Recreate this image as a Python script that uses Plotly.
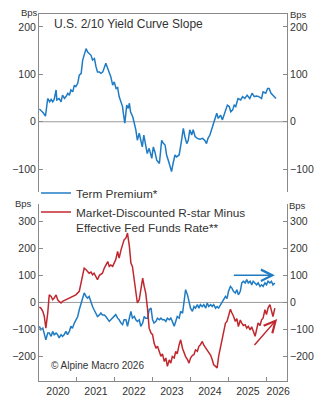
import plotly.graph_objects as go

# ---------------- data (decimal years, bps) ----------------
slope_t = [2020.01, 2020.05, 2020.11, 2020.17, 2020.23, 2020.28, 2020.32, 2020.36, 2020.40, 2020.45,
           2020.47, 2020.53, 2020.58, 2020.62, 2020.67, 2020.71, 2020.76, 2020.80, 2020.84, 2020.89,
           2020.93, 2020.97, 2021.02, 2021.06, 2021.11, 2021.15, 2021.19, 2021.24, 2021.28, 2021.32,
           2021.37, 2021.41, 2021.46, 2021.50, 2021.54, 2021.59, 2021.63, 2021.68, 2021.72, 2021.76,
           2021.81, 2021.85, 2021.89, 2021.94, 2021.98, 2022.03, 2022.07, 2022.11, 2022.16, 2022.20,
           2022.22, 2022.26, 2022.31, 2022.35, 2022.38, 2022.41, 2022.47, 2022.50, 2022.55, 2022.59,
           2022.64, 2022.68, 2022.72, 2022.76, 2022.82, 2022.85, 2022.90, 2022.97, 2023.01, 2023.05,
           2023.10, 2023.17, 2023.23, 2023.27, 2023.32, 2023.36, 2023.43, 2023.49, 2023.53, 2023.58,
           2023.62, 2023.69, 2023.74, 2023.80, 2023.84, 2023.89, 2023.93, 2023.97, 2024.02, 2024.06,
           2024.11, 2024.17, 2024.24, 2024.31, 2024.37, 2024.41, 2024.45, 2024.50, 2024.57, 2024.63,
           2024.68, 2024.72, 2024.78, 2024.83, 2024.89, 2024.96, 2025.01, 2025.05, 2025.10, 2025.14,
           2025.18, 2025.24, 2025.31, 2025.36, 2025.42, 2025.48, 2025.55, 2025.61, 2025.67, 2025.73,
           2025.79, 2025.86, 2025.90, 2025.97, 2026.02, 2026.06, 2026.11, 2026.15, 2026.19, 2026.24]
slope_v = [27, 24, 19, 12, 49, 42, 47, 42, 47, 67,
           46, 49, 42, 56, 49, 53, 60, 56, 67, 63,
           77, 74, 81, 98, 102, 130, 140, 154, 147, 144,
           140, 130, 133, 116, 105, 105, 102, 105, 116, 123,
           112, 102, 95, 77, 84, 70, 72, 53, 42, 32,
           18, -3, 35, 28, 39, 21, 10, 0, -17, -39,
           -24, -39, -53, -28, -53, -67, -56, -77, -53, -63,
           -81, -88, -39, -45, -49, -70, -88, -105, -88, -70,
           -74, -70, -46, -14, -31, -46, -39, -17, -28, -17,
           -31, -35, -37, -35, -40, -46, -35, -28, -10, 4,
           18, 7, 14, 4, 18, 35, 32, 21, 25, 35,
           32, 49, 46, 53, 49, 56, 49, 60, 53, 54,
           53, 49, 63, 60, 70, 70, 60, 56, 53, 49]

term_t = [2020.01, 2020.05, 2020.10, 2020.14, 2020.18, 2020.23, 2020.27, 2020.32, 2020.36, 2020.40,
          2020.45, 2020.49, 2020.53, 2020.58, 2020.62, 2020.66, 2020.71, 2020.75, 2020.80, 2020.84,
          2020.88, 2020.93, 2020.97, 2021.02, 2021.06, 2021.11, 2021.15, 2021.19, 2021.24, 2021.28,
          2021.32, 2021.37, 2021.41, 2021.45, 2021.50, 2021.54, 2021.59, 2021.63, 2021.67, 2021.72,
          2021.76, 2021.81, 2021.85, 2021.89, 2021.94, 2021.98, 2022.02, 2022.07, 2022.11, 2022.16,
          2022.20, 2022.24, 2022.29, 2022.33, 2022.38, 2022.42, 2022.46, 2022.51, 2022.55, 2022.59,
          2022.64, 2022.68, 2022.73, 2022.77, 2022.81, 2022.86, 2022.90, 2022.95, 2022.99, 2023.03,
          2023.08, 2023.12, 2023.17, 2023.21, 2023.25, 2023.30, 2023.34, 2023.38, 2023.43, 2023.47,
          2023.51, 2023.56, 2023.60, 2023.64, 2023.69, 2023.73, 2023.78, 2023.82, 2023.86, 2023.91,
          2023.95, 2023.99, 2024.04, 2024.08, 2024.12, 2024.17, 2024.21, 2024.25, 2024.30, 2024.34,
          2024.39, 2024.43, 2024.47, 2024.52, 2024.56, 2024.60, 2024.65, 2024.69, 2024.73, 2024.78,
          2024.82, 2024.86, 2024.91, 2024.95, 2024.99, 2025.04, 2025.08, 2025.12, 2025.17, 2025.21,
          2025.25, 2025.30, 2025.34, 2025.38, 2025.43, 2025.47, 2025.51, 2025.56, 2025.60, 2025.64,
          2025.69, 2025.73, 2025.77, 2025.82, 2025.86, 2025.90, 2025.95, 2025.99, 2026.03, 2026.08,
          2026.12, 2026.16, 2026.21]
term_v = [-88, -101, -95, -119, -138, -113, -113, -125, -107, -119,
          -113, -119, -131, -119, -125, -119, -107, -119, -107, -88,
          -95, -76, -64, -52, -27, -2, 16, 35, 22, 16,
          22, -2, -15, -27, -39, -52, -46, -39, -46, -46,
          -52, -64, -70, -64, -58, -52, -45, -58, -64, -76,
          -82, -64, -64, -88, -52, -33, -58, -52, -64, -70,
          -64, -88, -76, -52, -58, -58, -27, -21, -64, -76,
          -70, -58, -64, -58, -64, -64, -70, -58, -64, -58,
          -70, -88, -70, -52, -58, -33, -40, 4, 47, 28,
          4, -21, -33, -15, -21, -8, -21, -8, -15, -8,
          -21, -2, -15, -8, -15, -8, -21, -15, -21, -8,
          4, 10, 22, 14, 41, 59, 53, 41, 35, 47,
          28, 41, 72, 78, 72, 84, 72, 78, 65, 78,
          72, 65, 72, 59, 65, 59, 72, 65, 78, 72,
          78, 65, 72]

rstar_t = [2020.01, 2020.05, 2020.10, 2020.14, 2020.18, 2020.23, 2020.27, 2020.32, 2020.36, 2020.40,
           2020.45, 2020.49, 2020.53, 2020.58, 2020.62, 2020.71, 2020.80, 2020.88, 2020.97, 2021.06,
           2021.11, 2021.15, 2021.19, 2021.24, 2021.28, 2021.32, 2021.37, 2021.41, 2021.45, 2021.50,
           2021.54, 2021.59, 2021.63, 2021.67, 2021.72, 2021.76, 2021.81, 2021.85, 2021.89, 2021.94,
           2021.98, 2022.02, 2022.07, 2022.11, 2022.16, 2022.20, 2022.24, 2022.29, 2022.33, 2022.38,
           2022.42, 2022.46, 2022.51, 2022.55, 2022.59, 2022.64, 2022.68, 2022.73, 2022.77, 2022.81,
           2022.86, 2022.90, 2022.95, 2022.99, 2023.03, 2023.08, 2023.12, 2023.17, 2023.21, 2023.25,
           2023.30, 2023.34, 2023.38, 2023.43, 2023.47, 2023.51, 2023.56, 2023.60, 2023.64, 2023.69,
           2023.73, 2023.78, 2023.82, 2023.86, 2023.91, 2023.95, 2023.99, 2024.04, 2024.08, 2024.12,
           2024.17, 2024.21, 2024.25, 2024.30, 2024.34, 2024.39, 2024.43, 2024.47, 2024.52, 2024.56,
           2024.60, 2024.65, 2024.69, 2024.73, 2024.78, 2024.82, 2024.86, 2024.91, 2024.95, 2024.99,
           2025.04, 2025.08, 2025.12, 2025.17, 2025.21, 2025.25, 2025.30, 2025.34, 2025.38, 2025.43,
           2025.47, 2025.51, 2025.56, 2025.60, 2025.64, 2025.69, 2025.73, 2025.77, 2025.82, 2025.86,
           2025.90, 2025.95, 2025.99, 2026.03, 2026.08, 2026.12, 2026.16, 2026.21]
rstar_v = [-17, -21, -33, -52, -95, -39, 28, 22, 10, 16,
           28, 10, 4, -2, 4, 10, 16, 22, 28, 41,
           72, 90, 127, 121, 115, 108, 112, 102, 108, 96,
           84, 100, 105, 108, 127, 139, 151, 133, 138, 133,
           145, 158, 188, 164, 194, 213, 231, 238, 256, 207,
           145, 133, 84, 53, -2, 10, 47, 90, 59, 35,
           -27, -95, -113, -119, -150, -169, -162, -180, -199, -190,
           -218, -205, -236, -212, -224, -200, -205, -181, -190, -156,
           -138, -170, -187, -200, -211, -224, -205, -195, -193, -175,
           -180, -162, -156, -144, -158, -168, -180, -187, -195, -211,
           -230, -236, -242, -199, -162, -132, -107, -76, -70, -52,
           -25, -39, -50, -70, -60, -89, -65, -76, -85, -82,
           -95, -88, -101, -90, -107, -125, -100, -76, -85, -64,
           -58, -27, -45, -21, -8, -27, -52, -21]

year_labels = ["2020", "2021", "2022", "2023", "2024", "2025", "2026"]
year_label_pos = [2020.5, 2021.5, 2022.5, 2023.5, 2024.5, 2025.5, 2026.3]
year_bounds = [2020, 2021, 2022, 2023, 2024, 2025, 2026]

# ---------------- styling ----------------
BLUE = "#1f7cc4"
RED = "#c0282f"
AXC = "#8a8a8a"
TXT = "#333333"
FONT = "Liberation Sans, Arial, sans-serif"
X_RANGE = [2020.0, 2026.53]
TOP_RANGE = [-148, 227]
BOT_RANGE = [-290, 363]

fig = go.Figure()

fig.add_trace(go.Scatter(x=slope_t, y=slope_v, mode="lines", line=dict(color=BLUE, width=1.5),
                         xaxis="x", yaxis="y", showlegend=False, hoverinfo="skip"))
fig.add_trace(go.Scatter(x=term_t, y=term_v, mode="lines", line=dict(color=BLUE, width=1.5),
                         xaxis="x2", yaxis="y2", name="Term Premium*"))
fig.add_trace(go.Scatter(x=rstar_t, y=rstar_v, mode="lines", line=dict(color=RED, width=1.5),
                         xaxis="x2", yaxis="y2",
                         name="Market-Discounted R-star Minus<br>Effective Fed Funds Rate**"))
# carriers for the right-hand mirrored axes
fig.add_trace(go.Scatter(x=[None], y=[None], xaxis="x", yaxis="y3", showlegend=False, hoverinfo="skip"))
fig.add_trace(go.Scatter(x=[None], y=[None], xaxis="x2", yaxis="y4", showlegend=False, hoverinfo="skip"))

yax_common = dict(showgrid=False, showline=True, linecolor=AXC, linewidth=1,
                  ticks="inside", ticklen=4, tickcolor=AXC, tickwidth=1,
                  tickfont=dict(size=10.5, color=TXT, family=FONT),
                  zeroline=False, fixedrange=True)

fig.update_layout(
    width=324, height=400,
    margin=dict(l=39, r=37, t=14, b=19, autoexpand=False),
    paper_bgcolor="white", plot_bgcolor="white",
    font=dict(family=FONT, color=TXT),
    xaxis=dict(domain=[0, 1], range=X_RANGE, anchor="y", side="top",
               showline=True, linecolor=AXC, linewidth=1, showgrid=False,
               showticklabels=False, ticks="", zeroline=False),
    xaxis2=dict(domain=[0, 1], range=X_RANGE, anchor="y2",
                showline=True, linecolor=AXC, linewidth=1, showgrid=False, zeroline=False,
                tickmode="array", tickvals=year_label_pos, ticktext=year_labels,
                ticks="inside", ticklen=0, tickcolor=AXC,
                tickfont=dict(size=10.5, color=TXT, family=FONT),
                minor=dict(tickmode="array", tickvals=year_bounds, ticks="inside",
                           ticklen=4, tickcolor=AXC, tickwidth=1, showgrid=False)),
    yaxis=dict(domain=[0.515, 1], range=TOP_RANGE, anchor="x", side="left",
               tickvals=[-100, 0, 100, 200], **yax_common),
    yaxis3=dict(range=TOP_RANGE, overlaying="y", anchor="x", side="right",
                tickvals=[-100, 0, 100, 200], **yax_common),
    yaxis2=dict(domain=[0, 0.482], range=BOT_RANGE, anchor="x2", side="left",
                tickvals=[-200, -100, 0, 100, 200, 300], **yax_common),
    yaxis4=dict(range=BOT_RANGE, overlaying="y2", anchor="x2", side="right",
                tickvals=[-200, -100, 0, 100, 200, 300], **yax_common),
    legend=dict(x=-0.012, y=0.551, xanchor="left", yanchor="top",
                bgcolor="rgba(0,0,0,0)", font=dict(size=11.8, color=TXT, family=FONT),
                tracegroupgap=0, valign="top", itemwidth=30),
    showlegend=True,
)

# zero lines
for yref, xref in (("y", "x"), ("y2", "x2")):
    fig.add_shape(type="line", xref=xref + " domain", yref=yref, x0=0, x1=1, y0=0, y1=0,
                  line=dict(color="#9a9a9a", width=1), layer="below")

ann_font = dict(family=FONT, color=TXT)
fig.add_annotation(text="U.S. 2/10 Yield Curve Slope", xref="paper", yref="paper",
                   x=(52 - 39) / 248, y=(381 - 24) / 367, xanchor="left", yanchor="middle",
                   showarrow=False, font=dict(size=12, **ann_font))
for txt_x, txt_y in ((29.5, 12.5), (298, 14.5), (23, 203.5), (297, 205.5)):
    fig.add_annotation(text="Bps", xref="paper", yref="paper",
                       x=(txt_x - 39) / 248, y=(381 - txt_y) / 367, xanchor="center", yanchor="middle",
                       showarrow=False, font=dict(size=9.5, **ann_font))
fig.add_annotation(text="© Alpine Macro 2026", xref="paper", yref="paper",
                   x=(49 - 39) / 248, y=(381 - 365) / 367, xanchor="left", yanchor="middle",
                   showarrow=False, font=dict(size=10, **ann_font))

# arrows
fig.add_annotation(x=2026.21, y=100, ax=2025.09, ay=100, xref="x2", yref="y2",
                   axref="x2", ayref="y2", text="", showarrow=True,
                   arrowhead=5, arrowsize=1.5, arrowwidth=1.5, arrowcolor=BLUE)
fig.add_annotation(x=2026.27, y=-61, ax=2025.64, ay=-163, xref="x2", yref="y2",
                   axref="x2", ayref="y2", text="", showarrow=True,
                   arrowhead=5, arrowsize=1.5, arrowwidth=1.5, arrowcolor=RED)

fig.write_html("out.html")
